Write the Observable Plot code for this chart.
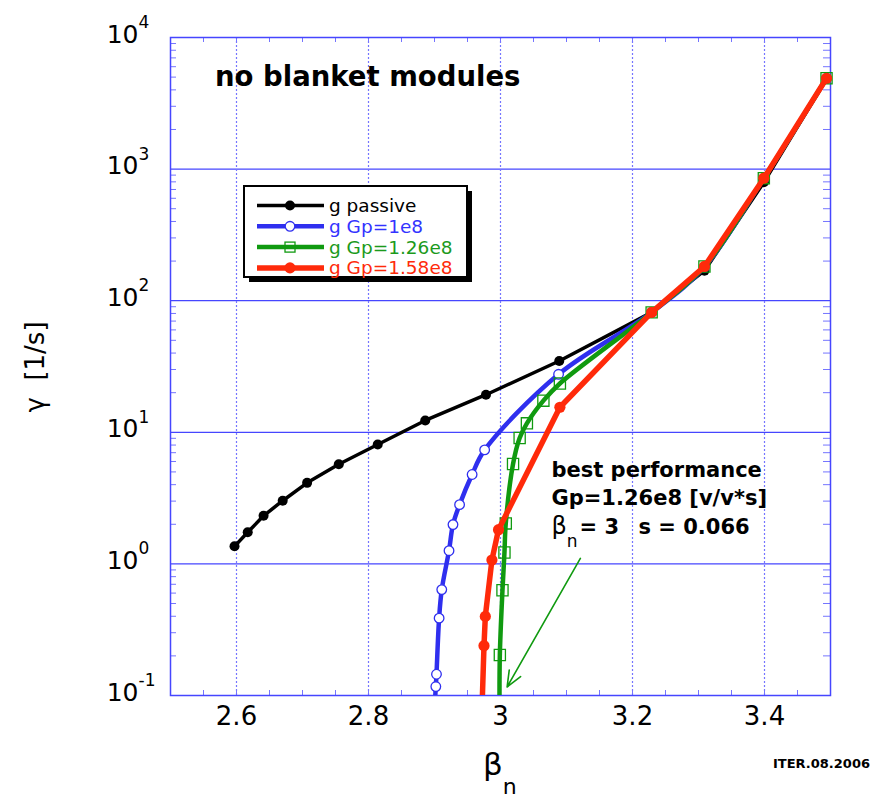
<!DOCTYPE html>
<html><head><meta charset="utf-8">
<script src="https://cdn.jsdelivr.net/npm/d3@7"></script>
<script src="https://cdn.jsdelivr.net/npm/@observablehq/plot@0.6"></script>
<style>
body{margin:0;background:#fff;}
#chart svg{display:block;}
</style></head><body><div id="chart"></div>
<script>
// ---- data (beta_n, gamma [1/s]) ----
const passiveBeta  = [2.597,2.617,2.641,2.670,2.707,2.755,2.814,2.886,2.978,3.089,3.229,3.309,3.399,3.494];
const passiveGamma = [1.36,1.74,2.32,3.02,4.13,5.72,8.08,12.3,19.3,34.8,81.5,169,794,4850];
const gp1Beta  = [2.900,2.902,2.903,2.907,2.911,2.922,2.928,2.938,2.957,2.976,3.088,3.229,3.309,3.399,3.494];
const gp1Gamma = [0.08,0.117,0.145,0.387,0.638,1.26,1.99,2.82,4.78,7.35,27.6,81.5,180,850,4900];
const gp126Beta  = [2.9985,2.999,3.003,3.006,3.008,3.019,3.029,3.040,3.065,3.090,3.229,3.309,3.399,3.494];
const gp126Gamma = [0.08,0.203,0.631,1.22,2.03,5.74,9.05,11.7,17.4,23.5,81.5,182,853,4900];
const gp158Beta  = [2.972,2.975,2.977,2.987,2.997,3.090,3.229,3.309,3.399,3.494];
const gp158Gamma = [0.08,0.239,0.399,1.07,1.82,15.5,81.5,182,853,4900];

const seriesNames = ["g passive","g Gp=1e8","g Gp=1.26e8","g Gp=1.58e8"];

// ---- ticks ----
const xTicks = [2.6,2.8,3.0,3.2,3.4];
const xTickLabels = ["2.6","2.8","3","3.2","3.4"];
const xMinorTicks = [2.55,2.6,2.65,2.7,2.75,2.8,2.85,2.9,2.95,3.0,3.05,3.1,3.15,3.2,3.25,3.3,3.35,3.4,3.45];
const yTicks = [0.1,1,10,100,1000,10000];
const yExponents = ["-1","0","1","2","3","4"];
const yMinorMultipliers = [2,3,4,5,6,7,8,9];

// ---- annotations ----
const arrowFrom = [3.121, 1.1];
const arrowTo = [3.010, 0.116];
const noteLines = ["best performance","Gp=1.26e8 [v/v*s]"];
const noteLine3 = ["β","n","= 3","s = 0.066"];
const titleText = "no blanket modules";
const stampText = "ITER.08.2006";

const FONT = "DejaVu Sans";
const C = {black:"#000000", blue:"#2f2fef", green:"#109a10", red:"#ff2a0a", grid:"#4646ff", dgrid:"#7575ff"};

const mk = (b,g,name) => b.map((x,i)=>({beta:x, gamma:g[i], name}));
const passive = mk(passiveBeta, passiveGamma, seriesNames[0]);
const gp1 = mk(gp1Beta, gp1Gamma, seriesNames[1]);
const gp126 = mk(gp126Beta, gp126Gamma, seriesNames[2]);
const gp158 = mk(gp158Beta, gp158Gamma, seriesNames[3]);
const inRange = d => d.gamma >= 0.1;

const yMinor = [];
for (const t of yTicks.slice(0,-1)) for (const m of yMinorMultipliers) yMinor.push(t*m);

const W = 873, H = 803;
const M = {top:37, right:43, bottom:108, left:170};
const fw = W - M.left - M.right, fh = H - M.top - M.bottom;

const chart = Plot.plot({
  width: W, height: H,
  marginTop: M.top, marginRight: M.right, marginBottom: M.bottom, marginLeft: M.left,
  style: {fontFamily: FONT, background: "#fff", color: "#000"},
  x: {domain: [2.5, 3.5], label: null},
  y: {type: "log", domain: [0.1, 10000], label: null},
  marks: [
    Plot.gridY(yTicks, {stroke: C.grid, strokeOpacity: 1, strokeWidth: 1.2}),
    Plot.gridX(xTicks, {stroke: C.dgrid, strokeOpacity: 1, strokeWidth: 1.2, strokeDasharray: "2,2"}),
    // minor ticks (inward)
    Plot.ruleX(xMinorTicks, {x: d=>d, insetTop: fh-5, stroke: C.dgrid, strokeWidth: 1}),
    Plot.ruleX(xMinorTicks, {x: d=>d, insetBottom: fh-5, stroke: C.dgrid, strokeWidth: 1}),
    Plot.ruleY(yMinor, {y: d=>d, insetRight: fw-6, stroke: C.dgrid, strokeWidth: 1}),
    Plot.ruleY(yMinor, {y: d=>d, insetLeft: fw-7, stroke: C.dgrid, strokeWidth: 1}),
    Plot.frame({stroke: C.grid, strokeWidth: 1.5}),
    Plot.axisX(xTicks, {tickFormat: (d,i)=>xTickLabels[i], tickSize: 0, tickPadding: 11, fontSize: 26, label: null}),
    Plot.axisY(yTicks, {tickFormat: () => "10", tickSize: 0, tickPadding: 32, fontSize: 25, dy: -3, label: null}),
    Plot.text(yTicks, {y: d=>d, frameAnchor: "left", text: (d,i)=>yExponents[i], dx: -32, dy: -15, textAnchor: "start", fontSize: 17}),
    // series
    Plot.line(passive, {x: "beta", y: "gamma", stroke: C.black, strokeWidth: 3.5, clip: true}),
    Plot.dot(passive.filter(inRange), {x: "beta", y: "gamma", fill: C.black, r: 5}),
    Plot.line(gp1, {x: "beta", y: "gamma", stroke: C.blue, strokeWidth: 4.5, curve: "catmull-rom", clip: true}),
    Plot.dot(gp1.filter(inRange), {x: "beta", y: "gamma", fill: "#fff", stroke: C.blue, strokeWidth: 1.3, r: 4.8}),
    Plot.line(gp126, {x: "beta", y: "gamma", stroke: C.green, strokeWidth: 4.5, curve: "catmull-rom", clip: true}),
    Plot.dot(gp126.filter(inRange), {x: "beta", y: "gamma", symbol: "square", fill: "none", stroke: C.green, strokeWidth: 1.3, r: 6.3}),
    Plot.line(gp158, {x: "beta", y: "gamma", stroke: C.red, strokeWidth: 5.5, clip: true}),
    Plot.dot(gp158.filter(inRange), {x: "beta", y: "gamma", fill: C.red, r: 5.6}),
    Plot.arrow([0], {x1: ()=>arrowFrom[0], y1: ()=>arrowFrom[1], x2: ()=>arrowTo[0], y2: ()=>arrowTo[1], stroke: C.green, strokeWidth: 1.6, headLength: 16, headAngle: 45})
  ]
});
document.getElementById("chart").appendChild(chart);

const svg = d3.select(chart);
const sx = chart.scale("x"), sy = chart.scale("y");
const over = svg.append("g").attr("text-anchor", "start").attr("font-family", FONT);

// title inside plot
over.append("text").attr("x", M.left + 45).attr("y", 86)
  .attr("font-weight", "bold").attr("font-size", 27.5).attr("fill", "#000")
  .text(titleText);

// legend
const lg = over.append("g");
lg.append("rect").attr("x", 249).attr("y", 191).attr("width", 223).attr("height", 91).attr("fill", "#000");
lg.append("rect").attr("x", 244).attr("y", 186).attr("width", 223).attr("height", 91).attr("fill", "#fff").attr("stroke", "#000").attr("stroke-width", 2);
const legendStyles = [
  {stroke: C.black, w: 3.5, text: "#000"},
  {stroke: C.blue, w: 4.5, text: "#3333ff"},
  {stroke: C.green, w: 4.5, text: "#1c9a1c"},
  {stroke: C.red, w: 5.5, text: "#ff2a0a"}
];
seriesNames.forEach((name, i) => {
  const y = 205.5 + i * 20.8, s = legendStyles[i];
  lg.append("line").attr("x1", 257).attr("x2", 324).attr("y1", y).attr("y2", y).attr("stroke", s.stroke).attr("stroke-width", s.w);
  if (i === 0) lg.append("circle").attr("cx", 290).attr("cy", y).attr("r", 5).attr("fill", C.black);
  if (i === 1) lg.append("circle").attr("cx", 290).attr("cy", y).attr("r", 4.8).attr("fill", "#fff").attr("stroke", C.blue).attr("stroke-width", 1.3);
  if (i === 2) lg.append("rect").attr("x", 285).attr("y", y-5).attr("width", 10).attr("height", 10).attr("fill", "none").attr("stroke", C.green).attr("stroke-width", 1.3);
  if (i === 3) lg.append("circle").attr("cx", 290).attr("cy", y).attr("r", 5.6).attr("fill", C.red);
  lg.append("text").attr("x", 329).attr("y", y + 6.5).attr("font-size", 18.5).attr("fill", s.text).text(name);
});

// annotation
const ax = sx.apply(3.078), ay = sy.apply(4.56);
const note = over.append("g").attr("font-weight", "bold").attr("font-size", 21).attr("fill", "#000");
noteLines.forEach((t, i) => note.append("text").attr("x", ax).attr("y", ay + i * 28.5).text(t));
const l3 = note.append("text").attr("x", ax).attr("y", ay + 57);
l3.append("tspan").attr("font-weight", "normal").attr("font-size", 24).text(noteLine3[0]);
l3.append("tspan").attr("font-weight", "normal").attr("font-size", 17).attr("dy", 13).text(noteLine3[1]);
l3.append("tspan").attr("x", ax + 28).attr("dy", -13).text(noteLine3[2]);
l3.append("tspan").attr("x", ax + 87).text(noteLine3[3]);

// axis titles
const xt = over.append("text").attr("x", 483).attr("y", 775).attr("fill", "#000");
xt.append("tspan").attr("font-size", 31).text("β");
xt.append("tspan").attr("font-size", 22).attr("dy", 19).text("n");

over.append("text").attr("transform", "translate(44,367) rotate(-90)").attr("text-anchor", "middle")
  .attr("font-size", 26).attr("fill", "#000")
  .text("γ  [1/s]");

over.append("text").attr("x", 870).attr("y", 768).attr("text-anchor", "end")
  .attr("font-weight", "bold").attr("font-size", 13).attr("fill", "#000")
  .text(stampText);
</script>
</body></html>
